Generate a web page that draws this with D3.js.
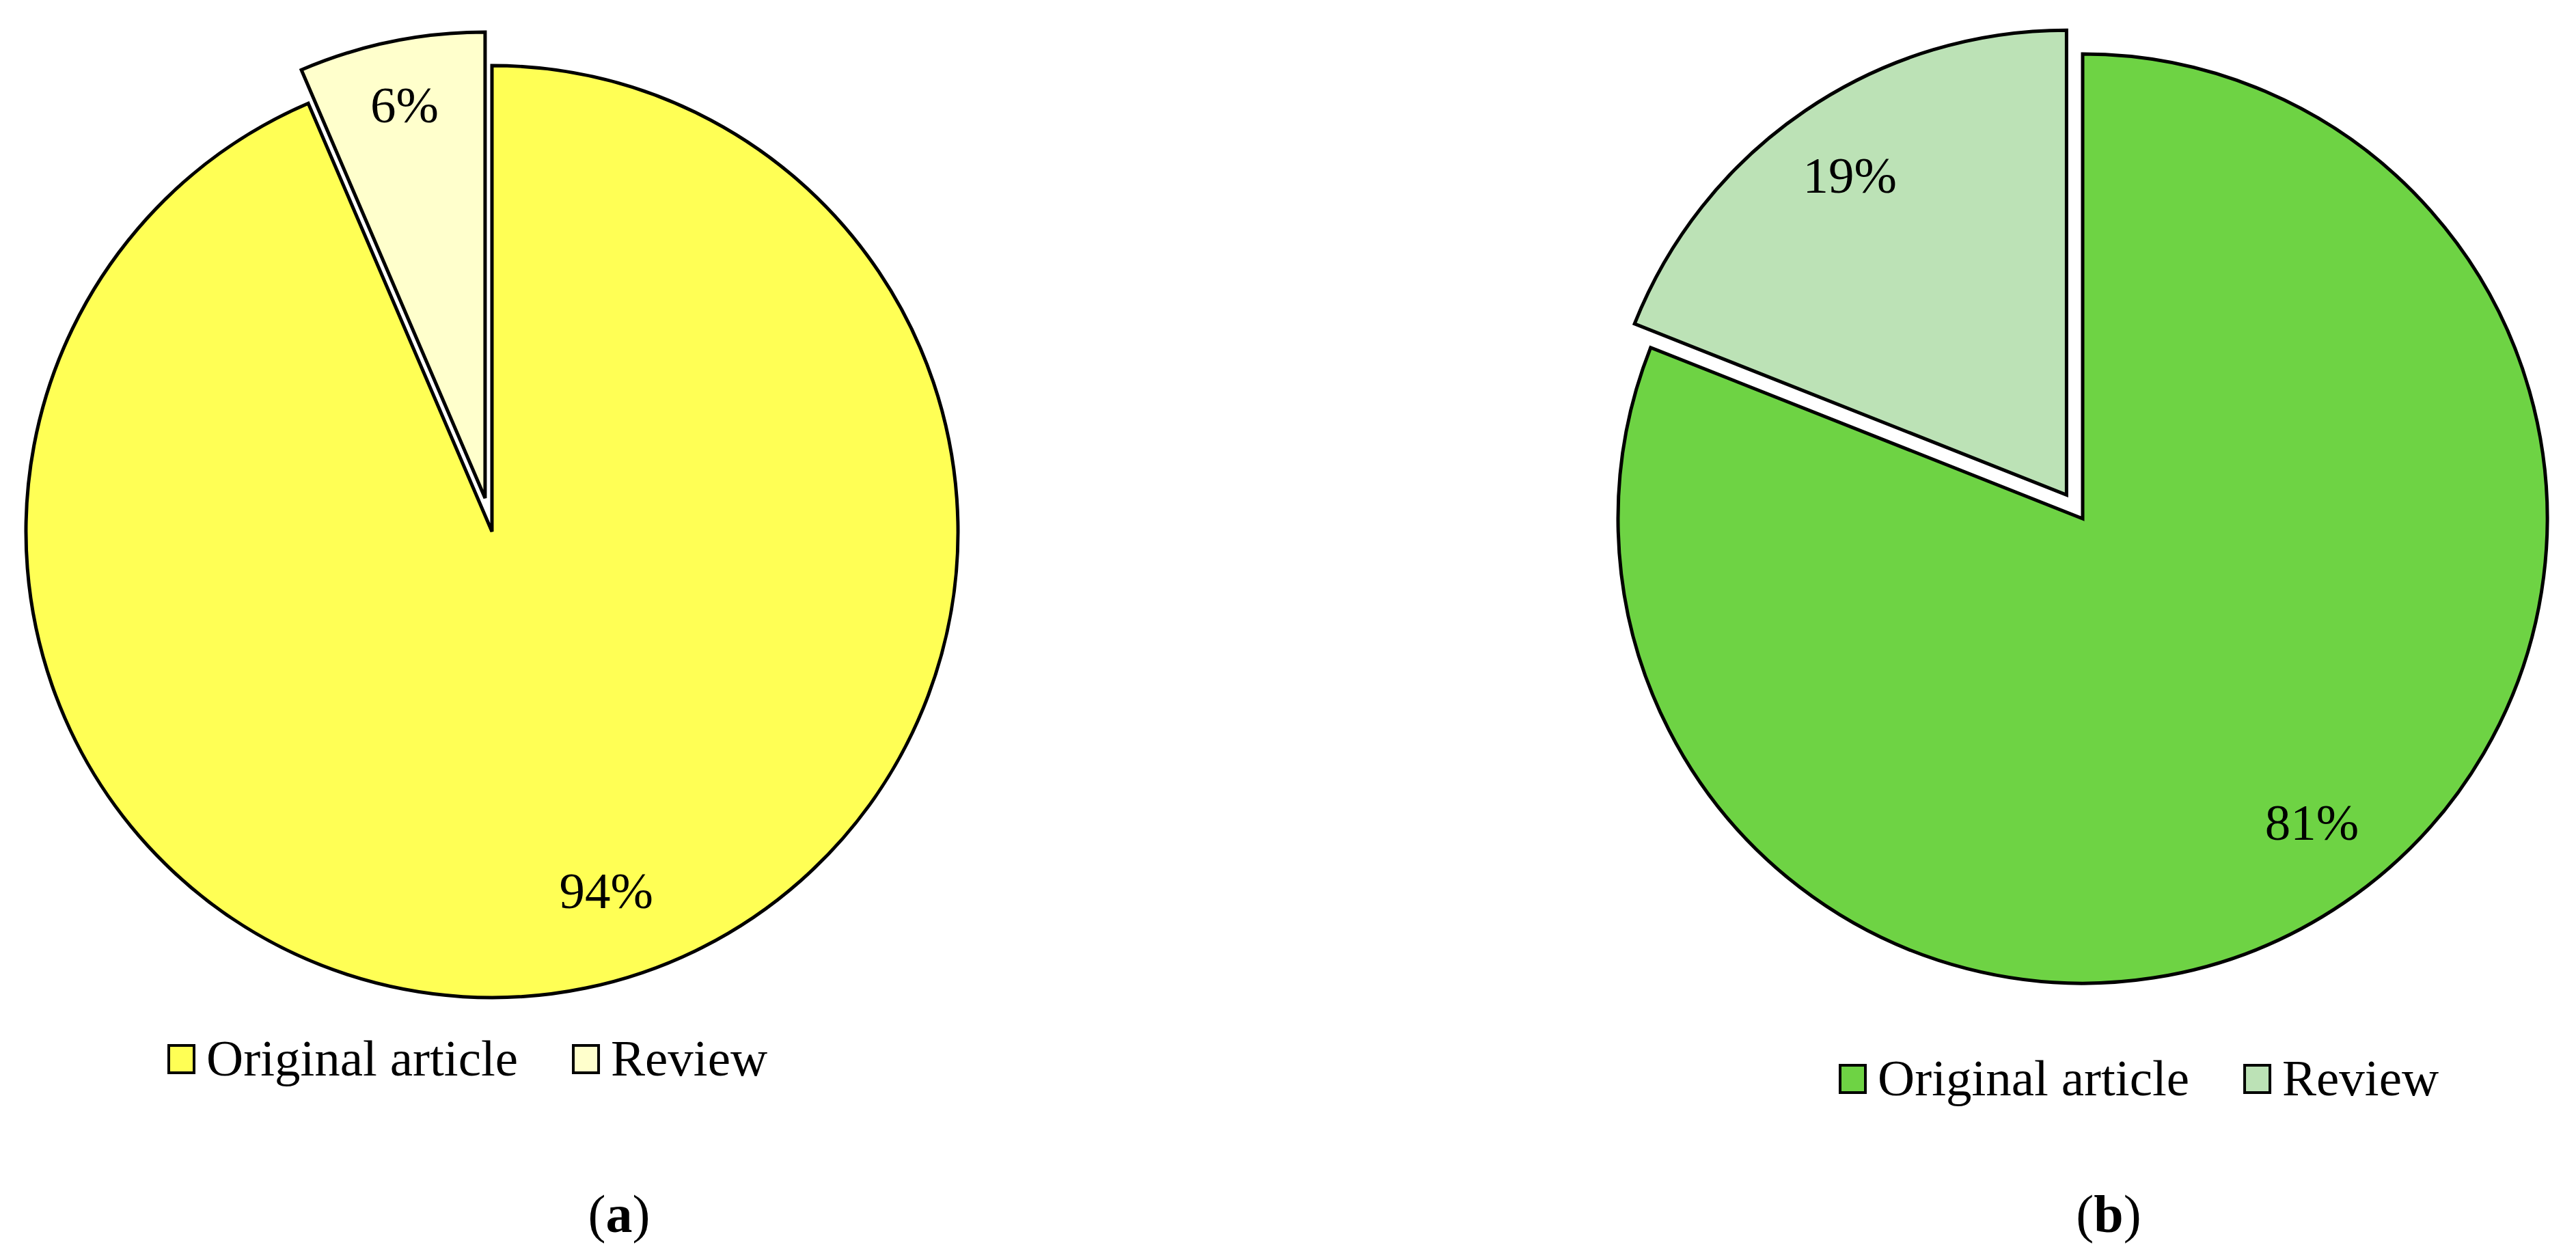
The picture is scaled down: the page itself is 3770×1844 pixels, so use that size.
<!DOCTYPE html>
<html>
<head>
<meta charset="utf-8">
<script src="https://cdn.jsdelivr.net/npm/d3@7"></script>
<style>
  body { margin: 0; background: #fff; }
  text { font-family: "Liberation Serif", "Times New Roman", serif; fill: #000; }
</style>
</head>
<body>
<div id="chart"></div>
<script>
// data (shares in %, labels are rounded)
var categories = ["Original article", "Review"];
var valuesA = [93.55, 6.45];
var valuesB = [81, 19];
var panelNames = ["a", "b"];

var w = 3770,
    h = 1844;

// layout per panel (positions / styles only)
var panels = [
  {values: valuesA, cx: 720, cy: 778, r: 682, explode: 50,
   colors: ["#ffff55", "#ffffcc"], legendX: 245, legendY: 1574, capX: 906,
   labelR: [0.81, 0.86], labelTurn: [-6, 0]},
  {values: valuesB, cx: 3048, cy: 759, r: 680, explode: 42,
   colors: ["#6ed344", "#bce2b6"], legendX: 2691, legendY: 1603, capX: 3086,
   labelR: [0.82, 0.83], labelTurn: [-2.8, 0]}
];

var fontSize = 75;

var svg = d3.select("#chart")
  .append("svg")
  .attr("width", w)
  .attr("height", h);

var pie = d3.pie()
  .sort(null)
  .value(function(d){ return d; });

panels.forEach(function(p, pi){
  var g = svg.append("g")
    .attr("transform", "translate(" + p.cx + "," + p.cy + ")");

  var arc = d3.arc().innerRadius(0).outerRadius(p.r);

  var arcs = pie(p.values);

  // the review slice (last one) is pulled out
  function shift(d, i){
    if (i !== arcs.length - 1) return "translate(0,0)";
    var mid = (d.startAngle + d.endAngle) / 2;
    return "translate(" + (p.explode * Math.sin(mid)) + "," + (-p.explode * Math.cos(mid)) + ")";
  }

  function labelPos(d, i){
    var mid = (d.startAngle + d.endAngle) / 2 + p.labelTurn[i] * Math.PI / 180;
    var rr = p.r * p.labelR[i];
    return "translate(" + (rr * Math.sin(mid)) + "," + (-rr * Math.cos(mid)) + ")";
  }

  var slices = g.selectAll("g.slice")
    .data(arcs)
    .enter()
    .append("g")
    .attr("class", "slice")
    .attr("transform", shift);

  slices.append("path")
    .attr("d", arc)
    .attr("fill", function(d, i){ return p.colors[i]; })
    .attr("stroke", "#000")
    .attr("stroke-width", 5)
    .attr("stroke-linejoin", "miter");

  slices.append("text")
    .attr("transform", labelPos)
    .attr("text-anchor", "middle")
    .attr("dy", "0.33em")
    .style("font-size", fontSize + "px")
    .text(function(d){ return Math.round(d.data) + "%"; });

  // legend
  var lg = svg.append("g")
    .attr("transform", "translate(" + p.legendX + "," + p.legendY + ")");
  var x = 0;
  categories.forEach(function(c, i){
    lg.append("rect")
      .attr("x", x + 2)
      .attr("y", -44)
      .attr("width", 37)
      .attr("height", 40)
      .attr("fill", p.colors[i])
      .attr("stroke", "#000")
      .attr("stroke-width", 4);
    var t = lg.append("text")
      .attr("x", x + 57)
      .attr("y", 0)
      .style("font-size", fontSize + "px")
      .text(c);
    x += 57 + t.node().getComputedTextLength() + 79;
  });

  // caption
  var cap = svg.append("text")
    .attr("x", p.capX)
    .attr("y", 1803)
    .attr("text-anchor", "middle")
    .style("font-size", "78px");
  cap.append("tspan").text("(");
  cap.append("tspan").style("font-weight", "bold").text(panelNames[pi]);
  cap.append("tspan").text(")");
});
</script>
</body>
</html>
